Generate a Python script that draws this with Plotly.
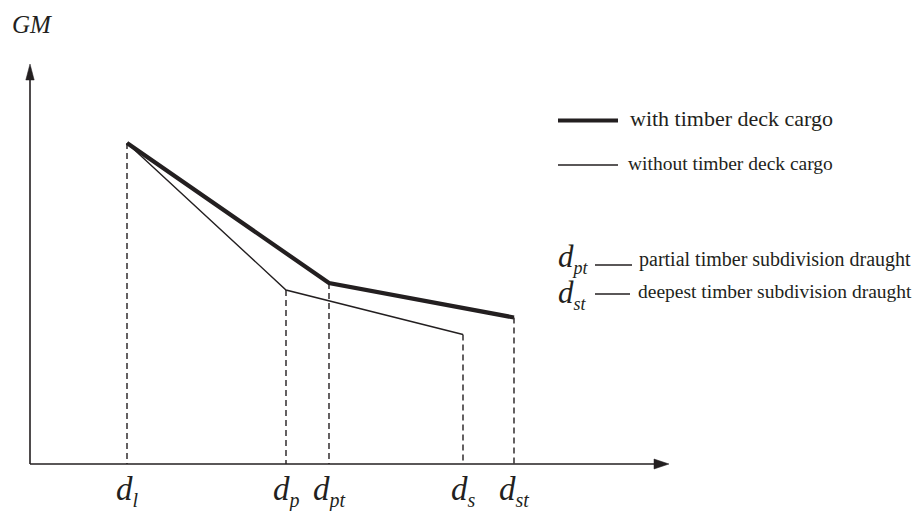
import plotly.graph_objects as go

# ---- data (draught positions and GM values, arbitrary units) ----
draught_labels = ["l", "p", "pt", "s", "st"]
draught_x = [0.97, 2.56, 2.99, 4.33, 4.84]
draught_gm = [3.21, 1.74, 1.81, 1.295, 1.465]

with_x = [0.97, 2.99, 4.84]
with_gm = [3.21, 1.81, 1.465]

without_x = [0.97, 2.56, 4.33]
without_gm = [3.21, 1.74, 1.295]

legend_items = ["with timber deck cargo", "without timber deck cargo"]
note_symbols = ["pt", "st"]
note_texts = ["partial timber subdivision draught", "deepest timber subdivision draught"]

INK = "#231f20"
SERIF = "Liberation Serif"


def dsym(sub, size):
    return f"<i>d<sub><span style='font-size:{size}px'>{sub}</span></sub></i>"


fig = go.Figure()

# dashed drop lines
for xv, gv in zip(draught_x, draught_gm):
    fig.add_trace(go.Scatter(x=[xv, xv], y=[gv, 0], mode="lines",
                             line=dict(color=INK, width=1.4, dash="6px,4px"),
                             hoverinfo="skip", showlegend=False))

# curves
fig.add_trace(go.Scatter(x=without_x, y=without_gm, mode="lines",
                         line=dict(color=INK, width=1.4), showlegend=False))
fig.add_trace(go.Scatter(x=with_x, y=with_gm, mode="lines",
                         line=dict(color=INK, width=4.2), showlegend=False))

shapes = []
# axes
x_end, y_end = 6.39, 4.00
shapes.append(dict(type="line", x0=0, y0=0, x1=x_end - 0.1, y1=0, xref="x", yref="y",
                   line=dict(color=INK, width=1.6)))
shapes.append(dict(type="line", x0=0, y0=0, x1=0, y1=y_end - 0.1, xref="x", yref="y",
                   line=dict(color=INK, width=1.6)))
# arrow heads
shapes.append(dict(type="path", xref="x", yref="y",
                   path=f"M {x_end} 0 L {x_end-0.15} 0.05 L {x_end-0.15} -0.05 Z",
                   fillcolor=INK, line=dict(color=INK, width=0.5)))
shapes.append(dict(type="path", xref="x", yref="y",
                   path=f"M 0 {y_end} L -0.042 {y_end-0.16} L 0.042 {y_end-0.16} Z",
                   fillcolor=INK, line=dict(color=INK, width=0.5)))

# legend samples
shapes.append(dict(type="line", xref="x", yref="y", x0=5.28, x1=5.88, y0=3.435, y1=3.435,
                   line=dict(color=INK, width=4)))
shapes.append(dict(type="line", xref="x", yref="y", x0=5.28, x1=5.88, y0=2.99, y1=2.99,
                   line=dict(color=INK, width=1.3)))
# note dashes
shapes.append(dict(type="line", xref="x", yref="y", x0=5.65, x1=6.02, y0=1.99, y1=1.99,
                   line=dict(color=INK, width=1.4)))
shapes.append(dict(type="line", xref="x", yref="y", x0=5.65, x1=6.00, y0=1.70, y1=1.70,
                   line=dict(color=INK, width=1.4)))

annotations = []
# axis title
annotations.append(dict(x=-0.20, y=4.40, xref="x", yref="y", text="<i>GM</i>",
                        showarrow=False, xanchor="left", yanchor="middle",
                        font=dict(family=SERIF, size=25, color=INK)))
# tick labels
for lab, xv in zip(draught_labels, draught_x):
    annotations.append(dict(x=xv, y=-0.27, xref="x", yref="y",
                            text=dsym(lab, 20), showarrow=False,
                            xanchor="center", yanchor="middle",
                            font=dict(family=SERIF, size=33, color=INK)))
# legend texts
annotations.append(dict(x=5.98, y=3.46, xref="x", yref="y", text=legend_items[0],
                        showarrow=False, xanchor="left", yanchor="middle",
                        font=dict(family=SERIF, size=22, color=INK)))
annotations.append(dict(x=5.96, y=3.01, xref="x", yref="y", text=legend_items[1],
                        showarrow=False, xanchor="left", yanchor="middle",
                        font=dict(family=SERIF, size=19.5, color=INK)))
# notes
for sym, txt, yv in zip(note_symbols, note_texts, [2.06, 1.70]):
    annotations.append(dict(x=5.26, y=yv, xref="x", yref="y",
                            text=dsym(sym, 18), showarrow=False,
                            xanchor="left", yanchor="middle",
                            font=dict(family=SERIF, size=31, color=INK)))
annotations.append(dict(x=6.07, y=2.05, xref="x", yref="y", text=note_texts[0],
                        showarrow=False, xanchor="left", yanchor="middle",
                        font=dict(family=SERIF, size=20, color=INK)))
annotations.append(dict(x=6.06, y=1.73, xref="x", yref="y", text=note_texts[1],
                        showarrow=False, xanchor="left", yanchor="middle",
                        font=dict(family=SERIF, size=19.5, color=INK)))

fig.update_layout(
    width=920, height=511,
    margin=dict(l=0, r=0, t=0, b=0),
    paper_bgcolor="white", plot_bgcolor="white",
    font=dict(family=SERIF, color=INK),
    xaxis=dict(range=[-0.30, 8.90], visible=False, fixedrange=True),
    yaxis=dict(range=[-0.47, 4.64], visible=False, fixedrange=True),
    shapes=shapes, annotations=annotations, showlegend=False,
)

fig.write_html("out.html", config={"displayModeBar": False},
               post_script="document.body.style.margin='0';document.body.style.overflow='hidden';")
